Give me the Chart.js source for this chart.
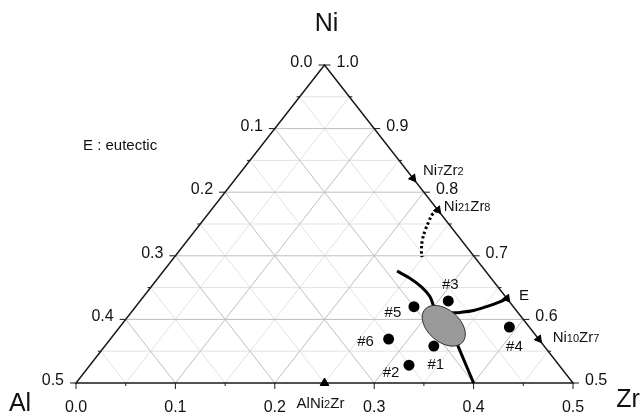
<!DOCTYPE html>
<html>
<head>
<meta charset="utf-8">
<script src="https://cdn.jsdelivr.net/npm/chart.js@4.4.0/dist/chart.umd.min.js"></script>
<style>
  html, body { margin: 0; padding: 0; background: #fff; }
</style>
</head>
<body>
<canvas id="myChart" width="643" height="417"></canvas>
<script>
// compositions are mole fractions [Zr, Ni], Al = 1 - Zr - Ni
const sampleNames = ["#1", "#2", "#3", "#4", "#5", "#6"];
const sampleZr = [0.331, 0.321, 0.310, 0.392, 0.280, 0.280];
const sampleNi = [0.558, 0.528, 0.629, 0.588, 0.620, 0.569];

// phases sitting on the Ni-Zr edge (Zr = 1 - Ni)
const edgePhases = ["Ni7Zr2", "Ni21Zr8", "E", "Ni10Zr7"];
const edgePhaseNi = [0.822, 0.772, 0.633, 0.569];

// phase on the Al50Ni50 - Ni50Zr50 edge
const basePhases = ["AlNi2Zr"];
const basePhaseZr = [0.25];

// eutectic valleys
const valleyAZr = [0.235, 0.253, 0.272, 0.288, 0.302, 0.315];
const valleyANi = [0.676, 0.665, 0.651, 0.636, 0.617, 0.600];
const valleyBZr = [0.322, 0.331, 0.343, 0.353, 0.363, 0.367];
const valleyBNi = [0.610, 0.611, 0.614, 0.620, 0.628, 0.633];
const valleyCZr = [0.353, 0.400];
const valleyCNi = [0.561, 0.500];
const dottedZr = [0.227, 0.226, 0.228, 0.231, 0.236, 0.243, 0.249];
const dottedNi = [0.772, 0.764, 0.754, 0.741, 0.725, 0.709, 0.698];

// eutectic region
const eutecticZr = 0.325;
const eutecticNi = 0.590;

// axis ticks
const zrTicks = [0.0, 0.1, 0.2, 0.3, 0.4, 0.5];
const alTicks = [0.0, 0.1, 0.2, 0.3, 0.4, 0.5];
const niTicks = [0.5, 0.6, 0.7, 0.8, 0.9, 1.0];

const FONT = '"Liberation Sans", Arial, Helvetica, sans-serif';
const TEXT = "#111";

function toXY(zr, ni) {
  return { x: zr + (ni - 0.5) / 2, y: ni - 0.5 };
}
function series(zr, ni) {
  return zr.map((z, i) => toXY(z, ni[i]));
}

// label offsets in px, relative to each point
const sampleLabelOffset = [[2, 19], [-18, 8], [2, -16], [5, 20], [-21, 6], [-23, 3]];
const edgeLabelOffset = [[10, -3], [6, 1], [12, 2], [14, 3]];

function drawFormula(ctx, text, x, y, align) {
  const parts = text.match(/[A-Za-z]+|\d+/g);
  const fontFor = s => /\d/.test(s) ? "11px " + FONT : "15px " + FONT;
  let w = 0;
  parts.forEach(s => { ctx.font = fontFor(s); w += ctx.measureText(s).width; });
  let cx = align === "center" ? x - w / 2 : x;
  ctx.textAlign = "left";
  parts.forEach(s => {
    ctx.font = fontFor(s);
    ctx.fillText(s, cx, y);
    cx += ctx.measureText(s).width;
  });
}

const ternaryPlugin = {
  id: "ternary",
  beforeDatasetsDraw(chart) {
    const ctx = chart.ctx;
    const xs = chart.scales.x, ys = chart.scales.y;
    const px = (zr, ni) => {
      const p = toXY(zr, ni);
      return [xs.getPixelForValue(p.x), ys.getPixelForValue(p.y)];
    };
    const seg = (a, b) => {
      ctx.beginPath();
      ctx.moveTo(a[0], a[1]);
      ctx.lineTo(b[0], b[1]);
      ctx.stroke();
    };
    ctx.save();
    ctx.lineWidth = 1;
    // grid: minor first, then major
    [1, 0].forEach(pass => {
      for (let i = 1; i < 10; i++) {
        if (i % 2 !== pass) continue;
        const v = i * 0.05;
        ctx.strokeStyle = pass ? "#e2e2e2" : "#bfbfbf";
        seg(px(0, 0.5 + v), px(0.5 - v, 0.5 + v));
        seg(px(v, 0.5), px(v, 1 - v));
        seg(px(0.5 - v, 0.5), px(0, 1 - v));
      }
    });
    // frame
    ctx.strokeStyle = "#1a1a1a";
    ctx.lineWidth = 1.5;
    ctx.beginPath();
    const A = px(0, 0.5), Z = px(0.5, 0.5), N = px(0, 1);
    ctx.moveTo(A[0], A[1]);
    ctx.lineTo(Z[0], Z[1]);
    ctx.lineTo(N[0], N[1]);
    ctx.closePath();
    ctx.stroke();

    // ticks
    ctx.lineWidth = 1;
    for (let i = 0; i <= 10; i++) {
      const v = i * 0.05;
      const len = i % 2 === 0 ? 6 : 3;
      const b = px(v, 0.5);
      seg(b, [b[0], b[1] + len]);
      const l = px(0, 1 - v);
      seg(l, [l[0] - len, l[1]]);
      const r = px(0.5 - v, 0.5 + v);
      seg(r, [r[0] + len, r[1]]);
    }
    // tick labels
    ctx.fillStyle = TEXT;
    ctx.font = "16px " + FONT;
    ctx.textBaseline = "alphabetic";
    ctx.textAlign = "center";
    zrTicks.forEach(t => {
      const p = px(t, 0.5);
      ctx.fillText(t.toFixed(1), p[0], p[1] + 29);
    });
    ctx.textAlign = "right";
    alTicks.forEach(t => {
      const p = px(0, 1 - t);
      ctx.fillText(t.toFixed(1), p[0] - 12, p[1] + 2);
    });
    ctx.textAlign = "left";
    niTicks.forEach(t => {
      const p = px(1 - t, t);
      ctx.fillText(t.toFixed(1), p[0] + 12, p[1] + 2);
    });

    // corner titles
    ctx.font = "25px " + FONT;
    ctx.textAlign = "center";
    ctx.fillText("Ni", N[0] + 2, N[1] - 34);
    ctx.fillText("Al", A[0] - 56, A[1] + 28);
    ctx.fillText("Zr", Z[0] + 55, Z[1] + 24);

    ctx.font = "15px " + FONT;
    ctx.textAlign = "left";
    ctx.fillText("E : eutectic", chart.chartArea.left + 7, 150);
    ctx.restore();
  },
  afterDatasetDraw(chart, args) {
    if (args.index !== 3) return;
    const ctx = chart.ctx;
    const p = toXY(eutecticZr, eutecticNi);
    const cx = chart.scales.x.getPixelForValue(p.x);
    const cy = chart.scales.y.getPixelForValue(p.y);
    ctx.save();
    ctx.beginPath();
    ctx.ellipse(cx, cy, 25, 16, 41 * Math.PI / 180, 0, Math.PI * 2);
    ctx.fillStyle = "#9a9a9a";
    ctx.fill();
    ctx.lineWidth = 1;
    ctx.strokeStyle = "#333";
    ctx.stroke();
    ctx.restore();
  },
  afterDraw(chart) {
    const ctx = chart.ctx;
    const xs = chart.scales.x, ys = chart.scales.y;
    const px = (zr, ni) => {
      const p = toXY(zr, ni);
      return [xs.getPixelForValue(p.x), ys.getPixelForValue(p.y)];
    };
    ctx.save();
    ctx.fillStyle = TEXT;
    ctx.font = "15px " + FONT;
    ctx.textAlign = "center";
    ctx.textBaseline = "middle";
    sampleNames.forEach((name, i) => {
      const p = px(sampleZr[i], sampleNi[i]);
      const o = sampleLabelOffset[i];
      ctx.fillText(name, p[0] + o[0], p[1] + o[1]);
    });
    ctx.textBaseline = "alphabetic";
    edgePhases.forEach((name, i) => {
      const p = px(1 - edgePhaseNi[i], edgePhaseNi[i]);
      const o = edgeLabelOffset[i];
      drawFormula(ctx, name, p[0] + o[0], p[1] + o[1], "left");
    });
    basePhases.forEach((name, i) => {
      const p = px(basePhaseZr[i], 0.5);
      drawFormula(ctx, name, p[0] - 4, p[1] + 25, "center");
    });
    ctx.restore();
  }
};

const data = {
  datasets: [
    {
      label: "samples",
      data: series(sampleZr, sampleNi),
      pointRadius: 5.5,
      backgroundColor: "#000",
      borderWidth: 0,
      showLine: false,
      clip: false,
    },
    {
      label: "edge phases",
      data: edgePhaseNi.map(n => toXY(1 - n, n)),
      pointStyle: "triangle",
      rotation: 142,
      pointRadius: 4.5,
      backgroundColor: "#000",
      borderColor: "#000",
      borderWidth: 1,
      showLine: false,
      clip: false,
    },
    {
      label: "base phases",
      data: basePhaseZr.map(z => toXY(z, 0.5)),
      pointStyle: "triangle",
      pointRadius: 5,
      backgroundColor: "#000",
      borderColor: "#000",
      borderWidth: 1,
      showLine: false,
      clip: false,
    },
    {
      label: "valley A",
      data: series(valleyAZr, valleyANi),
      showLine: true,
      borderColor: "#000",
      borderWidth: 3,
      pointRadius: 0,
      tension: 0.4,
      clip: false,
    },
    {
      label: "valley B",
      data: series(valleyBZr, valleyBNi),
      showLine: true,
      borderColor: "#000",
      borderWidth: 3,
      pointRadius: 0,
      tension: 0.4,
      clip: false,
    },
    {
      label: "valley C",
      data: series(valleyCZr, valleyCNi),
      showLine: true,
      borderColor: "#000",
      borderWidth: 3,
      pointRadius: 0,
      clip: false,
    },
    {
      label: "dotted",
      data: series(dottedZr, dottedNi),
      showLine: true,
      borderColor: "#000",
      borderWidth: 3,
      borderDash: [2.5, 2.5],
      pointRadius: 0,
      tension: 0.4,
      clip: false,
    },
  ],
};

const config = {
  type: "scatter",
  data: data,
  options: {
    responsive: false,
    maintainAspectRatio: false,
    animation: false,
    layout: { padding: { left: 76, right: 70, top: 65, bottom: 34 } },
    scales: {
      x: { type: "linear", min: 0, max: 0.5, display: false },
      y: { type: "linear", min: 0, max: 0.5, display: false },
    },
    plugins: {
      legend: { display: false },
      tooltip: { enabled: false },
    },
  },
  plugins: [ternaryPlugin],
};
var myChart = new Chart(document.getElementById("myChart"), config);
</script>
</body>
</html>
